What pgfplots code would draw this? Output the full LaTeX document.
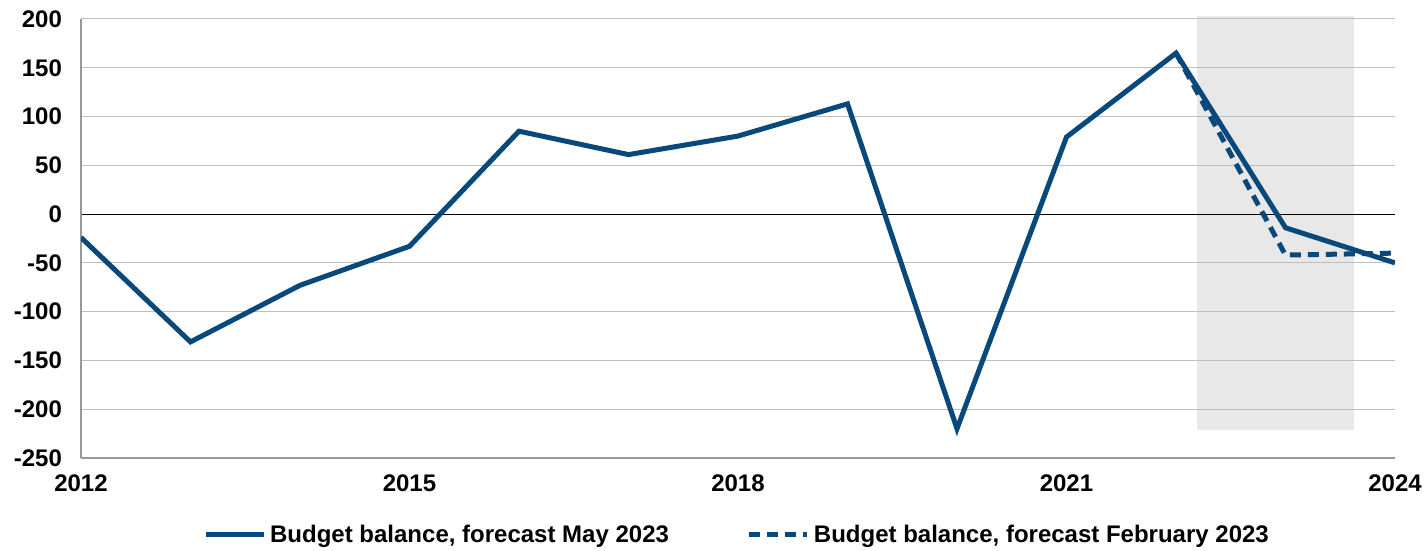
\documentclass[border=0pt]{standalone}
\usepackage{pgfplots}
\pgfplotsset{compat=1.18}
\usepackage{fontspec}
\setmainfont{Liberation Sans}
\definecolor{lineblue}{RGB}{8,72,122}
\definecolor{shade}{RGB}{232,232,232}
\definecolor{gridgray}{RGB}{190,190,190}
\begin{document}
\begin{tikzpicture}
\begin{axis}[
  set layers,
  at={(0,0)}, anchor=south west,
  scale only axis,
  width=657pt, height=219.5pt,
  xmin=2012, xmax=2024,
  ymin=-250, ymax=200,
  xtick={2012,2015,2018,2021,2024},
  ytick={-250,-200,...,200},
  extra y ticks={0},
  extra y tick labels={},
  extra y tick style={grid style={black, line width=0.5pt}},
  ymajorgrids,
  grid style={gridgray, line width=0.5pt},
  axis x line*=bottom,
  axis y line*=left,
  axis line style={gridgray!80!black, line width=0.6pt},
  major tick length=0pt,
  /pgf/number format/1000 sep={},
  /pgf/number format/assume math mode=true,
  ticklabel style={font=\fontsize{12}{14}\selectfont\bfseries},
  yticklabel style={xshift=-6pt},
  xticklabel style={yshift=-5pt},
  legend columns=2,
  legend style={at={(0.5,0)}, yshift=-38.5pt, anchor=center, draw=none,
    font=\fontsize{12}{14}\selectfont\bfseries,
    /tikz/every even column/.append style={column sep=37pt}},
  legend image code/.code={\draw[#1] (0pt,0pt) -- (29pt,0pt);},
]
\addplot[on layer=axis background, fill=shade, draw=none, forget plot]
  coordinates {(2022.19,-221) (2023.63,-221) (2023.63,203) (2022.19,203)} -- cycle;
\addplot[lineblue, line width=2.5pt, line join=miter] coordinates {
 (2012,-24) (2013,-131) (2014,-73) (2015,-33) (2016,85) (2017,61)
 (2018,80) (2019,113) (2020,-220) (2021,79) (2022,165) (2023,-14) (2024,-50)};
\addlegendentry{Budget balance, forecast May 2023}
\addplot[lineblue, line width=2.5pt, dash pattern=on 5.5pt off 3.5pt] coordinates {
 (2022,165) (2023,-42) (2024,-40)};
\addlegendentry{Budget balance, forecast February 2023}
\end{axis}
\pgfresetboundingbox
\useasboundingbox (-40.5pt,-46.5pt) rectangle (672pt,229pt);
\end{tikzpicture}
\end{document}
